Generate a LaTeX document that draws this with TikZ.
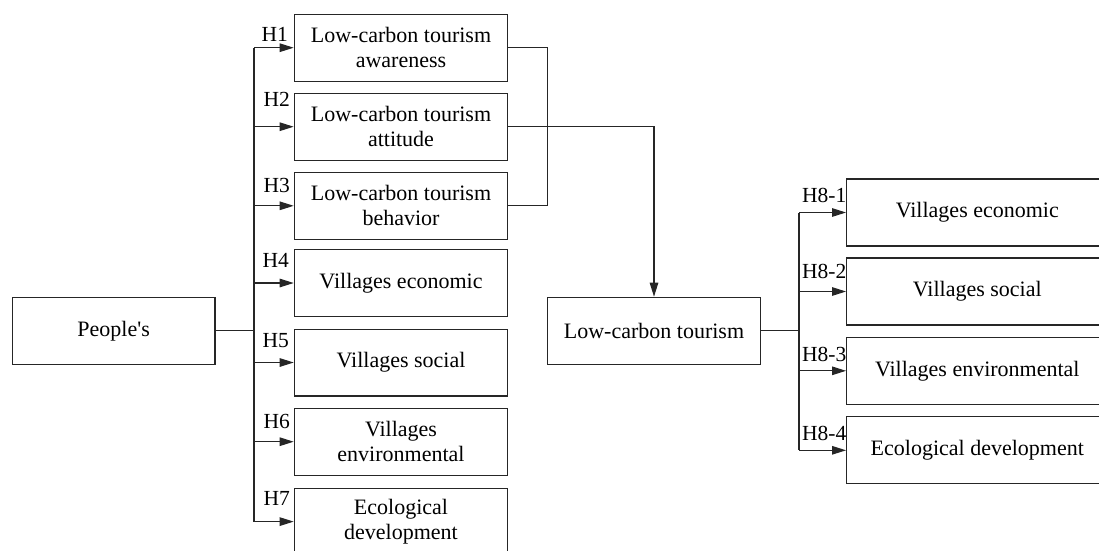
\documentclass[tikz,border=0pt]{standalone}
\usepackage{fontspec}
\setmainfont{Liberation Serif}[Ligatures=TeXOff]
\usetikzlibrary{arrows.meta}
\begin{document}
\begin{tikzpicture}[x=1pt,y=-1pt,
  box/.style={draw=black!85, line width=1.2pt, inner sep=0pt, align=center, font=\fontsize{22}{25}\selectfont},
  lbox/.style={box, minimum width=213.4pt, minimum height=66.8pt},
  rbox/.style={box, minimum width=261.3pt, minimum height=67pt},
  hlab/.style={anchor=base east, inner sep=0pt, font=\fontsize{21.5}{25}\selectfont},
  conn/.style={draw=black!85, line width=1.2pt},
  arr/.style={conn, -{Triangle[length=14pt,width=8.5pt]}}]
\useasboundingbox (0,0) rectangle (1099,550);
\clip (0,0) rectangle (1099,550);
% left column
\node[box, minimum width=202.7pt, minimum height=67pt] (peo) at (113.7,330.8) {People's};
\node[lbox] (b1) at (401,47.7) {Low-carbon tourism\\awareness};
\node[lbox] (b2) at (401,126.7) {Low-carbon tourism\\attitude};
\node[lbox] (b3) at (401,205.8) {Low-carbon tourism\\behavior};
\node[lbox] (b4) at (401,283) {Villages economic};
\node[lbox] (b5) at (401,362.5) {Villages social};
\node[lbox] (b6) at (401,441.7) {Villages\\environmental};
\node[lbox] (b7) at (401,521.6) {Ecological\\development};
% middle
\node[box, minimum width=213.4pt, minimum height=67pt] (lct) at (654,330.8) {Low-carbon tourism};
% right column
\node[rbox] (r1) at (977.3,212.5) {Villages economic};
\node[rbox] (r2) at (977.3,291.5) {Villages social};
\node[rbox] (r3) at (977.3,370.8) {Villages environmental};
\node[rbox] (r4) at (977.3,450.3) {Ecological development};
% labels
\node[hlab] (h1) at (288,41.7) {H1};
\node[hlab] (h2) at (290,106.7) {H2};
\node[hlab] (h3) at (290,192.7) {H3};
\node[hlab] (h4) at (289,267.3) {H4};
\node[hlab] (h5) at (289,347.3) {H5};
\node[hlab] (h6) at (290,428.3) {H6};
\node[hlab] (h7) at (290,505) {H7};
\node[hlab] (h81) at (846.5,202.7) {H8-1};
\node[hlab] (h82) at (846.5,278.3) {H8-2};
\node[hlab] (h83) at (846.5,361.7) {H8-3};
\node[hlab] (h84) at (846.5,440.7) {H8-4};
% left bus
\coordinate (busL) at (254,330.8);
\draw[conn] (peo.east) -- (busL);
\draw[conn] (b1.west -| busL) -- (b7.west -| busL);
\foreach \n in {b1,b2,b3,b4,b5,b6,b7}
  \draw[arr] (\n.west -| busL) -- (\n.west);
% join of b1, b3 and line from b2
\coordinate (jn) at (547.5,126.7);
\draw[conn] (b1.east) -| (jn) |- (b3.east);
\draw[arr] (b2.east) -| (lct.north);
% right bus
\coordinate (busR) at (799,330.8);
\draw[conn] (lct.east) -- (busR);
\draw[conn] (r1.west -| busR) -- (r4.west -| busR);
\foreach \n in {r1,r2,r3,r4}
  \draw[arr] (\n.west -| busR) -- (\n.west);
\end{tikzpicture}
\end{document}
